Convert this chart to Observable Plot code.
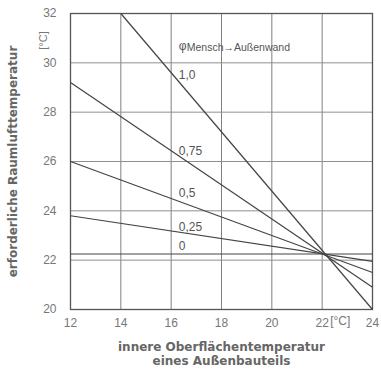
<!DOCTYPE html>
<html>
<head>
<meta charset="utf-8">
<script src="https://cdn.jsdelivr.net/npm/d3@7"></script>
<script src="https://cdn.jsdelivr.net/npm/@observablehq/plot@0.6"></script>
<style>
  html, body { margin: 0; padding: 0; background: #fff; }
  #chart svg { display: block; }
</style>
</head>
<body>
<div id="chart"></div>
<script>
// Data
const phiLabels = ["1,0", "0,75", "0,5", "0,25", "0"];
const startX = [14, 12, 12, 12, 12];
const startY = [32, 29.2, 26.0, 23.8, 22.25];
const endX = [24, 24, 24, 24, 24];
const endY = [20.0, 20.9, 21.5, 21.95, 22.25];
const labelX = [16.3, 16.3, 16.3, 16.3, 16.3];
const labelY = [29.5, 26.4, 24.7, 23.35, 22.55];
const xTicks = [12, 14, 16, 18, 20, 22, 24];
const yTicks = [20, 22, 24, 26, 28, 30, 32];
const xGrid = [14, 16, 18, 20, 22];
const yGrid = [22, 24, 26, 28, 30];
const legendSymbol = "φ";
const legendSub = "Mensch→Außenwand";
const xTitle1 = "innere Oberflächentemperatur";
const xTitle2 = "eines Außenbauteils";
const yTitle = "erforderliche Raumlufttemperatur";
const unit = "[°C]";

const segs = phiLabels.map((p, i) => ({phi: p, x1: startX[i], y1: startY[i], x2: endX[i], y2: endY[i]}));
const labs = phiLabels.map((p, i) => ({phi: p, x: labelX[i], y: labelY[i]}));

const W = 381, H = 373;
const ink = "#555";
const tickInk = "#777";
const titleFont = "'DejaVu Sans', sans-serif";
const plot = Plot.plot({
  width: W,
  height: H,
  marginLeft: 70,
  marginRight: 9,
  marginTop: 13,
  marginBottom: 64,
  style: {fontFamily: "'Liberation Sans', Arial, sans-serif", background: "#fff", color: ink, overflow: "visible"},
  x: {domain: [12, 24], ticks: xTicks, tickSize: 0, tickPadding: 10, label: null},
  y: {domain: [20, 32], ticks: yTicks, tickSize: 0, tickPadding: 14, label: null},
  marks: [
    Plot.ruleX(xGrid, {stroke: "#808080", strokeWidth: 1}),
    Plot.ruleY(yGrid, {stroke: "#909090", strokeWidth: 1}),
    Plot.frame({stroke: "#555", strokeWidth: 1.3}),
    Plot.link(segs, {x1: "x1", y1: "y1", x2: "x2", y2: "y2", stroke: "#444", strokeWidth: 1.2}),
    Plot.text(labs, {x: "x", y: "y", text: "phi", textAnchor: "start", fontSize: 12, fill: ink}),
    Plot.text([legendSymbol], {x: 16.3, y: 30.68, textAnchor: "start", fontSize: 12, fill: ink}),
    Plot.text([legendSub], {x: 16.3, y: 30.68, dx: 8, dy: 2, textAnchor: "start", fontSize: 10.5, fill: ink}),
    Plot.axisX({ticks: xTicks, tickSize: 0, tickPadding: 9, fontSize: 12, fill: tickInk}),
    Plot.text([unit], {x: 22, frameAnchor: "bottom", dx: 8, dy: 15, textAnchor: "start", fontSize: 12, fill: tickInk}),
    Plot.axisY({ticks: yTicks, tickSize: 0, tickPadding: 14, fontSize: 12, fill: tickInk}),
    Plot.text([xTitle1], {frameAnchor: "bottom", dy: 41, fontSize: 12, fontWeight: "bold", fontFamily: titleFont, fill: "#666"}),
    Plot.text([xTitle2], {frameAnchor: "bottom", dy: 55, fontSize: 12, fontWeight: "bold", fontFamily: titleFont, fill: "#666"}),
    Plot.text([yTitle], {frameAnchor: "left", dx: -57, textAnchor: "middle", rotate: -90, fontSize: 12, fontWeight: "bold", fontFamily: titleFont, fill: "#666"}),
    Plot.text([unit], {frameAnchor: "top-left", dx: -31, dy: 27, textAnchor: "middle", rotate: -90, fontSize: 11, fill: tickInk})
  ]
});
document.getElementById("chart").appendChild(plot);
</script>
</body>
</html>
